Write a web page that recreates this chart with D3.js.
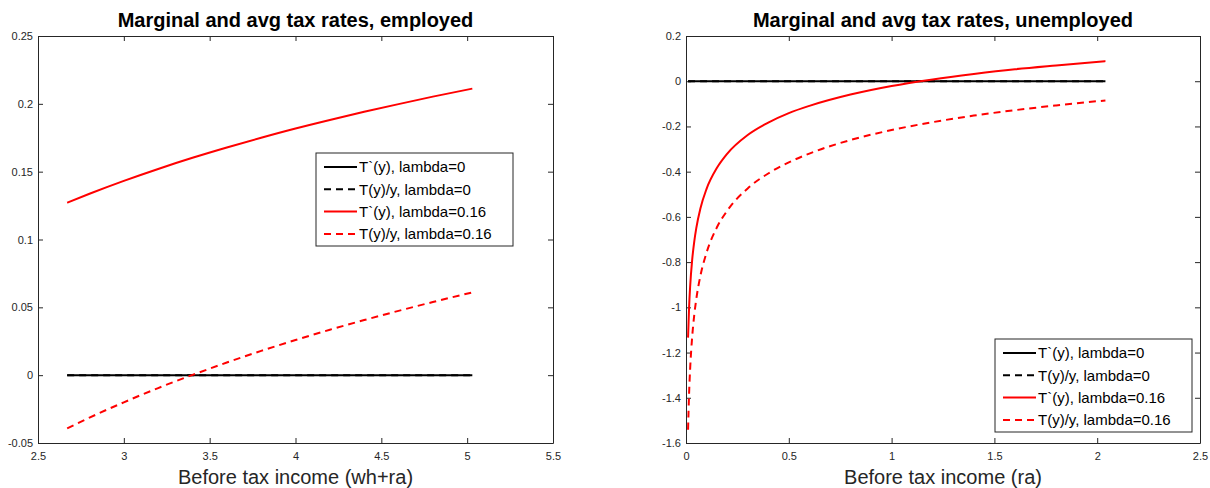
<!DOCTYPE html>
<html lang="en">
<head>
<meta charset="UTF-8">
<title>Marginal and avg tax rates</title>
<script src="https://d3js.org/d3.v7.min.js"></script>
<style>
    body { margin: 0; background: #fff; }
    svg { display: block; font-family: "Liberation Sans", Arial, sans-serif; }
    .axis path, .axis line { stroke: #262626; stroke-width: 1; }
    .axis text { fill: #262626; font-size: 11px; font-family: "Liberation Sans", Arial, sans-serif; }
</style>
</head>
<body>
<svg width="1210" height="488"></svg>
<script>
// employed panel
var empX = [2.67, 2.8, 3.0, 3.2, 3.4, 3.6, 3.8, 4.0, 4.2, 4.4, 4.6, 4.8, 5.03];
var empMargLam0 = [0, 0, 0, 0, 0, 0, 0, 0, 0, 0, 0, 0, 0];
var empAvgLam0 = [0, 0, 0, 0, 0, 0, 0, 0, 0, 0, 0, 0, 0];
var empMargLam16 = [0.1271, 0.1337, 0.1432, 0.1520, 0.1602, 0.1678, 0.1750, 0.1818, 0.1881, 0.1941, 0.1998, 0.2053, 0.2112];
var empAvgLam16 = [-0.0392, -0.0313, -0.0200, -0.0095, 0.0002, 0.0093, 0.0179, 0.0259, 0.0335, 0.0406, 0.0474, 0.0539, 0.0610];
var empXTicks = [2.5, 3, 3.5, 4, 4.5, 5, 5.5];
var empYTicks = [-0.05, 0, 0.05, 0.1, 0.15, 0.2, 0.25];

// unemployed panel
var unX = [0.01, 0.015, 0.02, 0.03, 0.04, 0.05, 0.07, 0.1, 0.15, 0.2, 0.3, 0.4, 0.5, 0.6, 0.8, 1.0, 1.2, 1.4, 1.6, 1.8, 2.04];
var unMargLam0 = [0, 0, 0, 0, 0, 0, 0, 0, 0, 0, 0, 0, 0, 0, 0, 0, 0, 0, 0, 0, 0];
var unAvgLam0 = [0, 0, 0, 0, 0, 0, 0, 0, 0, 0, 0, 0, 0, 0, 0, 0, 0, 0, 0, 0, 0];
var unMargLam16 = [-1.134, -1.000, -0.910, -0.790, -0.710, -0.650, -0.563, -0.476, -0.384, -0.321, -0.238, -0.183, -0.141, -0.109, -0.059, -0.021, 0.008, 0.032, 0.053, 0.070, 0.089];
var unAvgLam16 = [-1.541, -1.381, -1.274, -1.131, -1.035, -0.964, -0.861, -0.758, -0.647, -0.573, -0.474, -0.408, -0.359, -0.320, -0.260, -0.216, -0.181, -0.152, -0.128, -0.107, -0.085];
var unXTicks = [0, 0.5, 1, 1.5, 2, 2.5];
var unYTicks = [-1.6, -1.4, -1.2, -1, -0.8, -0.6, -0.4, -0.2, 0, 0.2];

var legendLabels = ["T`(y), lambda=0", "T(y)/y, lambda=0", "T`(y), lambda=0.16", "T(y)/y, lambda=0.16"];
var seriesColors = ["#000000", "#000000", "#ff0000", "#ff0000"];
var seriesDashed = [false, true, false, true];

var svg = d3.select('svg');

function panel(cfg) {
    var x = d3.scaleLinear().domain(cfg.xDomain).range([cfg.left, cfg.right]);
    var y = d3.scaleLinear().domain(cfg.yDomain).range([443, 36]);
    var g = svg.append('g');
    var fmt = d => String(d);

    g.append('g').attr('class', 'axis')
        .attr('transform', 'translate(0,443)')
        .call(d3.axisBottom(x).tickValues(cfg.xTicks).tickFormat(fmt).tickSizeInner(-5).tickSizeOuter(0).tickPadding(9));
    g.append('g').attr('class', 'axis')
        .attr('transform', 'translate(0,36)')
        .call(d3.axisTop(x).tickValues(cfg.xTicks).tickFormat('').tickSizeInner(-5).tickSizeOuter(0));
    g.append('g').attr('class', 'axis')
        .attr('transform', 'translate(' + cfg.left + ',0)')
        .call(d3.axisLeft(y).tickValues(cfg.yTicks).tickFormat(fmt).tickSizeInner(-5).tickSizeOuter(0).tickPadding(5));
    g.append('g').attr('class', 'axis')
        .attr('transform', 'translate(' + cfg.right + ',0)')
        .call(d3.axisRight(y).tickValues(cfg.yTicks).tickFormat('').tickSizeInner(-5).tickSizeOuter(0));

    var line = d3.line()
        .x(d => x(d[0]))
        .y(d => y(d[1]))
        .curve(d3.curveMonotoneX);

    cfg.series.forEach((s, i) => {
        g.append('path')
            .datum(cfg.xs.map((v, j) => [v, s[j]]))
            .attr('d', line)
            .style('fill', 'none')
            .style('stroke', seriesColors[i])
            .style('stroke-width', '2px')
            .style('stroke-dasharray', seriesDashed[i] ? '7,5' : null);
    });

    g.append('text')
        .attr('x', (cfg.left + cfg.right) / 2)
        .attr('y', 27)
        .attr('text-anchor', 'middle')
        .style('font-size', '20px')
        .style('font-weight', 'bold')
        .style('fill', '#000')
        .text(cfg.title);

    g.append('text')
        .attr('x', (cfg.left + cfg.right) / 2)
        .attr('y', 484)
        .attr('text-anchor', 'middle')
        .style('font-size', '20px')
        .style('fill', '#262626')
        .text(cfg.xLabel);

    // legend
    var lg = g.append('g').attr('transform', 'translate(' + cfg.legend[0] + ',' + cfg.legend[1] + ')');
    lg.append('rect')
        .attr('width', 197).attr('height', 93)
        .style('fill', '#fff').style('stroke', '#262626').style('stroke-width', '1px');
    legendLabels.forEach((lab, i) => {
        var yy = 14 + i * 22.3;
        lg.append('line')
            .attr('x1', 8).attr('x2', 41).attr('y1', yy).attr('y2', yy)
            .style('stroke', seriesColors[i])
            .style('stroke-width', '2px')
            .style('stroke-dasharray', seriesDashed[i] ? '7,5' : null);
        lg.append('text')
            .attr('x', 43).attr('y', yy)
            .attr('dy', '0.35em')
            .style('font-size', '15px')
            .style('fill', '#000')
            .text(lab);
    });
}

panel({
    left: 38, right: 553,
    xDomain: [2.5, 5.5], yDomain: [-0.05, 0.25],
    xTicks: empXTicks, yTicks: empYTicks,
    xs: empX,
    series: [empMargLam0, empAvgLam0, empMargLam16, empAvgLam16],
    title: 'Marginal and avg tax rates, employed',
    xLabel: 'Before tax income (wh+ra)',
    legend: [316, 153]
});

panel({
    left: 686, right: 1200,
    xDomain: [0, 2.5], yDomain: [-1.6, 0.2],
    xTicks: unXTicks, yTicks: unYTicks,
    xs: unX,
    series: [unMargLam0, unAvgLam0, unMargLam16, unAvgLam16],
    title: 'Marginal and avg tax rates, unemployed',
    xLabel: 'Before tax income (ra)',
    legend: [995, 339]
});
</script>
</body>
</html>
